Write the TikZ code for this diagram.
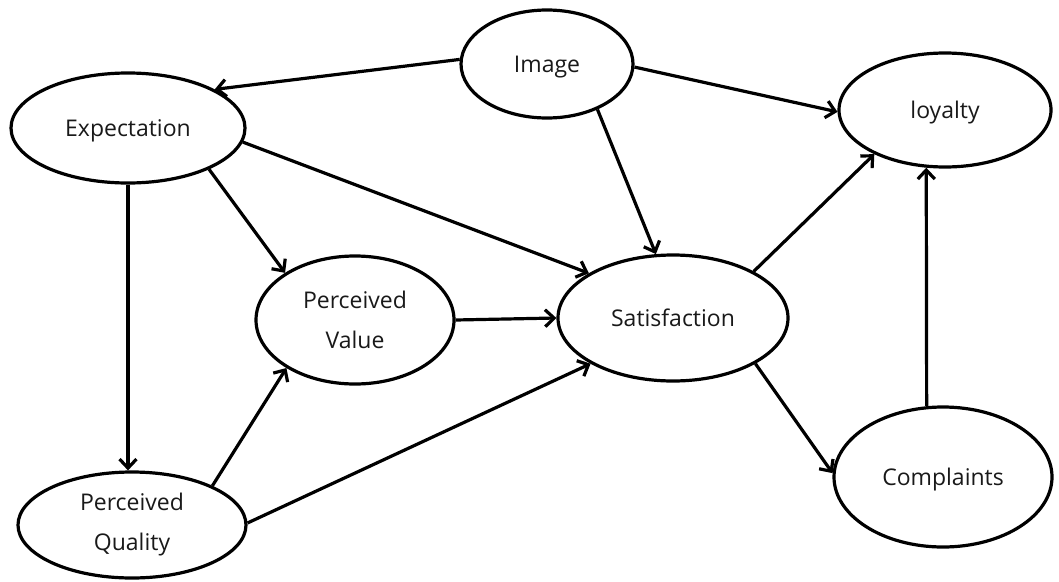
\documentclass[tikz,border=0pt]{standalone}
\usepackage{fontspec}
\setmainfont{Open Sans}
\usetikzlibrary{shapes.geometric,arrows.meta}
\begin{document}
\begin{tikzpicture}[x=1pt,y=-1pt,
  state/.style={ellipse, draw, line width=3.2pt, inner sep=0pt, align=center,
    font=\fontsize{23}{40}\selectfont, text=black!90},
  oneline/.style={text height=17pt, text depth=0pt},
  link/.style={line width=3.2pt, -{Straight Barb[length=9pt,width=17pt]}},
]
\useasboundingbox (0,0) rectangle (1059,581);

% constructs
\node[state, oneline, minimum width=172pt, minimum height=108pt] (img) at (547,64)  {Image};
\node[state, oneline, minimum width=234pt, minimum height=110pt] (exp) at (128,128) {Expectation};
\node[state, oneline, minimum width=212pt, minimum height=114pt] (loy) at (945,110) {loyalty};
\node[state, minimum width=198pt, minimum height=128pt] (pv)  at (355,320) {Perceived\\Value};
\node[state, oneline, minimum width=230pt, minimum height=126pt] (sat) at (673,318) {Satisfaction};
\node[state, oneline, minimum width=218pt, minimum height=140pt] (com) at (943,477) {Complaints};
\node[state, minimum width=228pt, minimum height=106pt] (pq)  at (132,525) {Perceived\\Quality};

% causal paths
\draw[link] (img.177) -- (exp.24);
\draw[link] (img.-2)  -- (loy.181);
\draw[link] (img.-42) -- (sat.105);
\draw[link] (exp.-7)  -- (sat.152);
\draw[link] (exp.-27) -- (pv.146);
\draw[link] (exp.south) -- (pq.north -| exp.south);
\draw[link] (pq.26)   -- (pv.215);
\draw[link] (pq.1)    -- (sat.209);
\draw[link] (pv.0)    -- (sat.180);
\draw[link] (sat.30)  -- (loy.212);
\draw[link] (sat.-29) -- (com.178);
\draw[link] (com.103) -- (loy.252);
\end{tikzpicture}
\end{document}
